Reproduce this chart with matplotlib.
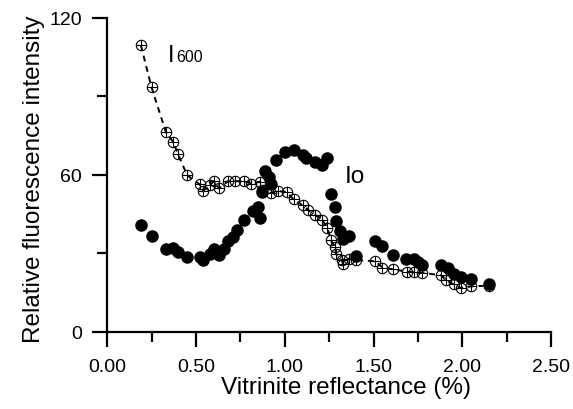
import matplotlib.pyplot as plt
from matplotlib.ticker import FormatStrFormatter, MultipleLocator

plt.rcParams["font.family"] = ["Liberation Sans", "DejaVu Sans"]

# I600 (open crossed circles, dashed line)
i600_x = [0.19, 0.25, 0.33, 0.37, 0.40, 0.45, 0.52, 0.54, 0.58, 0.60,
          0.63, 0.68, 0.72, 0.77, 0.81, 0.86, 0.87, 0.92, 0.96, 1.01,
          1.05, 1.10, 1.13, 1.17, 1.21, 1.24, 1.26, 1.28, 1.29, 1.32,
          1.33, 1.36, 1.40, 1.51, 1.55, 1.61, 1.69, 1.73, 1.77, 1.88,
          1.91, 1.95, 1.99, 2.05, 2.15]
i600_y = [109.5, 93.4, 76.5, 72.7, 67.8, 59.9, 56.4, 53.9, 56.1, 57.6,
          54.8, 57.6, 57.6, 57.6, 56.7, 57.4, 54.1, 53.1, 53.8, 53.5,
          50.6, 48.4, 46.7, 44.8, 42.8, 39.8, 35.0, 32.5, 29.9, 27.3,
          26.0, 28.0, 27.5, 27.0, 24.6, 23.9, 23.0, 22.8, 22.7, 21.6,
          19.7, 18.2, 16.8, 17.4, 17.7]

# Io (filled circles)
io_x = [0.19, 0.25, 0.33, 0.37, 0.40, 0.45, 0.52, 0.54, 0.58, 0.60,
        0.63, 0.66, 0.68, 0.71, 0.73, 0.77, 0.82, 0.85, 0.86, 0.87,
        0.89, 0.91, 0.92, 0.95, 1.00, 1.05, 1.10, 1.12, 1.17, 1.21,
        1.24, 1.26, 1.28, 1.29, 1.31, 1.33, 1.36, 1.40, 1.51, 1.55,
        1.61, 1.68, 1.73, 1.75, 1.77, 1.88, 1.92, 1.95, 1.99, 2.05,
        2.15]
io_y = [40.7, 36.6, 31.6, 31.9, 30.6, 28.7, 28.7, 27.6, 29.7, 31.7,
        29.2, 31.8, 34.8, 36.2, 38.8, 42.6, 46.2, 47.8, 43.7, 53.5,
        61.5, 59.3, 56.7, 65.6, 68.7, 69.7, 67.5, 66.3, 64.9, 63.6,
        66.6, 52.7, 47.8, 42.3, 38.5, 35.6, 36.7, 29.0, 34.8, 32.8,
        29.5, 27.8, 28.0, 26.7, 25.4, 25.4, 24.4, 22.2, 21.0, 20.3,
        18.4]

fig = plt.figure(figsize=(5.73, 4.10), dpi=100)
ax = fig.add_axes([0.187, 0.188, 0.775, 0.766])

ax.plot(i600_x, i600_y, color="black", lw=1.4, ls=(0, (3, 2.5)),
        marker="o", ms=7.5, mfc="none", mec="black", mew=0.8, zorder=2)
ax.plot(i600_x, i600_y, ls="none", marker="+", ms=7.5, mec="black", mew=0.8,
        zorder=2)
ax.plot(io_x, io_y, ls="none", marker="o", ms=8, color="black", zorder=3)

ax.text(0.34, 103.4, "I", fontsize=17, ha="left", va="baseline")
ax.annotate("600", xy=(0.34, 103.4), xytext=(6, 0),
            textcoords="offset points", fontsize=11.5, ha="left",
            va="baseline")
ax.text(1.34, 57.1, "Io", fontsize=17.5, ha="left", va="baseline")

ax.set_xlim(0, 2.5)
ax.set_ylim(0, 120)
ax.xaxis.set_major_locator(MultipleLocator(0.5))
ax.xaxis.set_minor_locator(MultipleLocator(0.25))
ax.yaxis.set_major_locator(MultipleLocator(60))
ax.yaxis.set_minor_locator(MultipleLocator(30))
ax.xaxis.set_major_formatter(FormatStrFormatter("%.2f"))

for s in ["top", "right"]:
    ax.spines[s].set_visible(False)
for s in ["left", "bottom"]:
    ax.spines[s].set_linewidth(1.6)
ax.tick_params(which="major", length=11, width=1.6, labelsize=14)
ax.tick_params(which="minor", length=7, width=1.6)
ax.tick_params(axis="x", which="major", pad=8)
ax.tick_params(axis="y", which="major", pad=7)

ax.set_xlabel("Vitrinite reflectance (%)", fontsize=17.5, labelpad=0.5)
ax.set_ylabel("Relative fluorescence intensity", fontsize=17.5, labelpad=3)
ax.xaxis.label.set_x(0.538)
ax.yaxis.label.set_y(0.489)

fig.savefig("out.png", dpi=100)
